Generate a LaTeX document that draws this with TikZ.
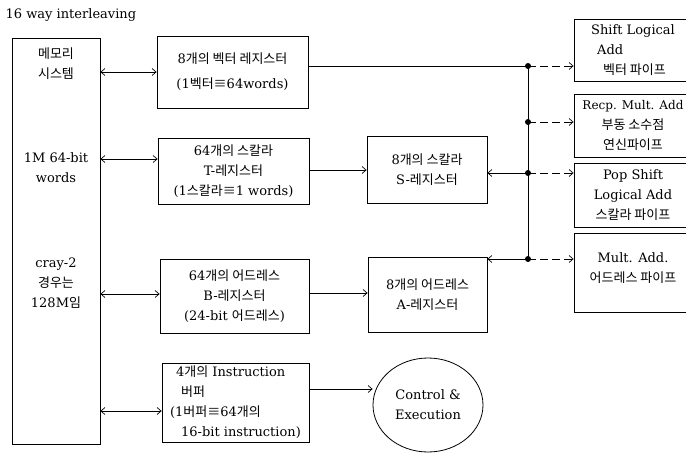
\documentclass[tikz,border=0pt]{standalone}
\usepackage{fontspec}
\setmainfont{DejaVu Serif}
\newfontfamily\kor{Noto Sans CJK KR}
\usetikzlibrary{arrows.meta, shapes.geometric}
\tikzstyle{regBox} = [rectangle, draw, line width=0.8pt, align=center, inner sep=2pt]
\tikzstyle{pipeBox} = [rectangle, draw, line width=0.8pt, minimum width=118pt, align=left, inner sep=2pt]
\tikzstyle{memText} = [align=center]

\begin{document}
\begin{tikzpicture}[x=1pt, y=-1pt, line width=0.7pt, font=\fontsize{13}{20}\selectfont,
    >={Straight Barb[length=4pt,width=7pt]}]
    \useasboundingbox (0,0) rectangle (686,453);
    \node[anchor=west] (title) at (2,15) {16 way interleaving};

    \node[regBox, minimum width=88pt, minimum height=406pt] (mem) at (56,241) {};
    \node[memText] (memA) at (56,64) {{\kor 메모리}\\{\kor 시스템}};
    \node[memText] (memB) at (56,168) {1M 64-bit\\words};
    \node[memText] (memC) at (56,283) {cray-2\\{\kor 경우는}\\128M{\kor 임}};

    \node[regBox, minimum width=151pt, minimum height=72pt] (vreg) at (232.5,72) {8{\kor 개의 벡터 레지스터}\\[5pt](1{\kor 벡터≡}64words)};
    \node[regBox, minimum width=151pt, minimum height=66pt] (treg) at (233.5,171) {64{\kor 개의 스칼라}\\T-{\kor 레지스터}\\(1{\kor 스칼라≡}1 words)};
    \node[regBox, minimum width=149pt, minimum height=74pt] (breg) at (234.5,296) {64{\kor 개의 어드레스}\\B-{\kor 레지스터}\\(24-bit {\kor 어드레스})};
    \node[regBox, align=left, minimum width=147pt, minimum height=79pt] (ibuf) at (235.5,402.5) {\hspace{6pt}4{\kor 개의} Instruction\\\hspace{11pt}{\kor 버퍼}\\(1{\kor 버퍼≡}64{\kor 개의}\\\hspace{11pt}16-bit instruction)};

    \node[regBox, minimum width=120pt, minimum height=67pt] (sreg) at (427,169.5) {8{\kor 개의 스칼라}\\S-{\kor 레지스터}};
    \node[regBox, minimum width=119pt, minimum height=75pt] (areg) at (427.5,294.5) {8{\kor 개의 어드레스}\\A-{\kor 레지스터}};
    \node[draw, ellipse, line width=0.8pt, align=center, minimum width=110pt, minimum height=94pt] (ctrl) at (428,405) {Control \&\\Execution};

    \node[pipeBox, minimum height=62pt] (r1) at (633,50) {Shift Logical\\\hspace{6pt}Add\\\hspace{12pt}{\kor 벡터 파이프}};
    \node[pipeBox, align=center, minimum height=63pt] (r2) at (633,125.5) {{\fontsize{12}{20}\selectfont Recp. Mult. Add}\\{\kor 부동 소수점}\\{\kor 연신파이프}};
    \node[pipeBox, align=center, minimum height=64pt] (r3) at (633,195) {Pop Shift\\Logical Add\\{\kor 스칼라 파이프}};
    \node[pipeBox, align=center, minimum height=79pt, text depth=9pt] (r4) at (633,272.5) {Mult. Add.\\{\kor 어드레스 파이프}};

    \coordinate (b1) at (528,66);
    \coordinate (b2) at (528,122);
    \coordinate (b3) at (528,173);
    \coordinate (b4) at (528,259);

    \draw[<->] (mem.east |- vreg.west) -- (vreg.west);
    \draw[<->] (mem.east |- 0,159) -- (treg.west |- 0,159);
    \draw[<->] (mem.east |- 0,294) -- (breg.west |- 0,294);
    \draw[<->] (mem.east |- 0,411) -- (ibuf.west |- 0,411);

    \draw (vreg.east |- b1) -- (b1);
    \draw (b1) -- (b4);
    \draw[->] (treg.east |- 0,170) -- (sreg.west |- 0,170);
    \draw[->] (b3) -- (sreg.east |- b3);
    \draw[->] (b4) -- (areg.east |- b4);
    \draw[->] (breg.east |- 0,293) -- (areg.west |- 0,293);
    \draw[->] (ibuf.east |- 0,389) -- (ctrl.west |- 0,389);

    \draw[->, dash pattern=on 8pt off 4pt] (b1) -- (r1.west |- b1);
    \draw[->, dash pattern=on 8pt off 4pt] (b2) -- (r2.west |- b2);
    \draw[->, dash pattern=on 8pt off 4pt] (b3) -- (r3.west |- b3);
    \draw[->, dash pattern=on 8pt off 4pt] (b4) -- (r4.west |- b4);
    \foreach \b in {b1,b2,b3,b4} \fill (\b) circle (3pt);
\end{tikzpicture}
\end{document}
